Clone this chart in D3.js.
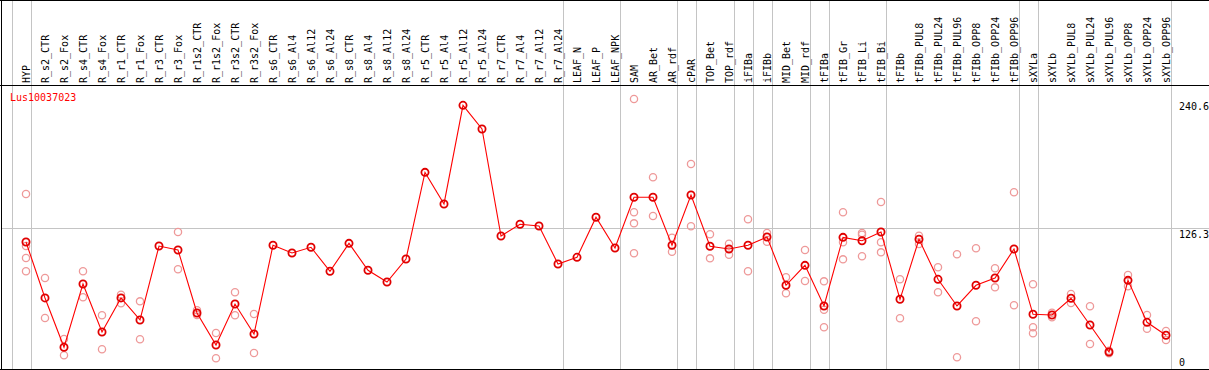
<!DOCTYPE html>
<html>
<head>
<meta charset="utf-8">
<script src="https://cdn.jsdelivr.net/npm/d3@7"></script>
<style>
  body { margin: 0; background: #fff; }
  svg { display: block; }
  text { font-family: "DejaVu Sans Mono", monospace; font-size: 10px; }
</style>
</head>
<body>
<div id="chart_area"></div>
<script>
// sample names (one column each)
var labels = ["HYP", "R_s2_CTR", "R_s2_Fox", "R_s4_CTR", "R_s4_Fox", "R_r1_CTR", "R_r1_Fox",
    "R_r3_CTR", "R_r3_Fox", "R_r1s2_CTR", "R_r1s2_Fox", "R_r3s2_CTR", "R_r3s2_Fox",
    "R_s6_CTR", "R_s6_Al4", "R_s6_Al12", "R_s6_Al24", "R_s8_CTR", "R_s8_Al4", "R_s8_Al12",
    "R_s8_Al24", "R_r5_CTR", "R_r5_Al4", "R_r5_Al12", "R_r5_Al24", "R_r7_CTR", "R_r7_Al4",
    "R_r7_Al12", "R_r7_Al24", "LEAF_N", "LEAF_P", "LEAF_NPK", "SAM", "AR_Bet", "AR_rdf",
    "cPAR", "TOP_Bet", "TOP_rdf", "iFIBa", "iFIBb", "MID_Bet", "MID_rdf", "tFIBa", "tFIB_Gr",
    "tFIB_Li", "tFIB_Bi", "tFIBb", "tFIBb_PUL8", "tFIBb_PUL24", "tFIBb_PUL96", "tFIBb_OPP8",
    "tFIBb_OPP24", "tFIBb_OPP96", "sXYLa", "sXYLb", "sXYLb_PUL8", "sXYLb_PUL24", "sXYLb_PUL96",
    "sXYLb_OPP8", "sXYLb_OPP24", "sXYLb_OPP96"];

// mean expression per sample
var means = [113.9, 64.3, 20.6, 76.7, 34.1, 64.3, 44.8, 110.3, 106.8, 51.0, 22.6, 58.9, 32.3,
    111.0, 104.1, 109.2, 87.9, 112.7, 88.8, 78.4, 98.8, 175.6, 147.6, 235.0, 214.0, 119.2,
    129.6, 128.1, 94.4, 100.3, 135.8, 108.6, 153.5, 153.5, 111.0, 155.5, 110.1, 107.7, 111.0,
    118.3, 75.5, 93.2, 57.2, 118.0, 115.0, 122.7, 63.1, 116.3, 80.8, 57.2, 75.5, 82.0, 107.7,
    49.8, 49.2, 64.0, 40.3, 16.4, 79.9, 42.7, 31.2];

// replicate values per sample
var replicates = [[156.4, 110.3, 99.7, 87.9], [82.0, 46.5], [27.9, 13.5], [87.9, 64.9],
    [48.9, 18.8], [67.2, 59.6], [61.3, 27.7], [], [122.7, 89.7], [53.4, 49.2], [33.2, 10.8],
    [69.3, 48.9], [50.1, 15.5], [], [], [], [], [], [], [], [], [], [], [], [], [], [], [], [],
    [], [], [], [240.6, 140.2, 130.4, 103.9], [171.2, 136.9], [117.7, 105.3], [183.0, 127.8],
    [120.7, 99.4], [112.4, 102.6], [134.0, 87.9], [121.9, 114.1], [82.6, 68.4], [106.8, 79.3],
    [79.0, 53.9, 38.3], [140.2, 113.6, 98.5], [121.9, 120.4, 101.2], [149.3, 113.6, 104.7],
    [80.8, 46.3], [119.5, 112.1], [91.5, 69.3], [103.0, 11.7], [108.3, 43.6], [90.6, 73.7],
    [157.9, 57.8], [76.4, 38.3, 33.0], [51.2, 47.1], [67.8, 59.8], [56.9, 23.5], [17.5, 15.3],
    [84.6, 74.6], [49.2, 37.0], [35.0, 27.0]];

// last sample of each group (grey separator after it)
var groupEnds = ["HYP", "R_r7_Al24", "LEAF_NPK", "AR_rdf", "cPAR", "TOP_rdf", "iFIBa", "iFIBb",
    "MID_rdf", "tFIBa", "tFIB_Bi", "tFIBb_OPP96", "sXYLa", "sXYLb_OPP96"];

var tickValues = [0, 126.3, 240.6];
var tickLabels = ["0", "126.3", "240.6"];
var geneId = "Lus10037023";

var width = 1209, height = 370;
var headerBottom = 85.5, plotBottom = 369.5;

var svg = d3.select("#chart_area")
    .append("svg")
        .attr("width", width)
        .attr("height", height);

//scales
var x = d3.scalePoint()
    .domain(labels)
    .range([26, 1166]);
var step = x.step();

var y = d3.scaleLinear()
    .domain([0, 240.6])
    .range([370.5, 99]);

//separator lines
var sepX = [x(labels[0]) - step + 4.5].concat(groupEnds.map(function(d){
    return x(d) + 4.5;
}));
svg.selectAll(".sep")
    .data(sepX)
    .enter().append("line")
        .attr("x1", function(d){ return Math.round(d) + 0.5; })
        .attr("x2", function(d){ return Math.round(d) + 0.5; })
        .attr("y1", 1)
        .attr("y2", plotBottom)
        .attr("stroke", "#c4c4c4")
        .attr("stroke-width", 1);

//middle reference line
svg.append("line")
    .attr("x1", 1).attr("x2", width)
    .attr("y1", Math.round(y(126.3)) + 0.5)
    .attr("y2", Math.round(y(126.3)) + 0.5)
    .attr("stroke", "#c4c4c4");

//frame
svg.append("line").attr("x1", 0).attr("x2", width).attr("y1", 0.5).attr("y2", 0.5)
    .attr("stroke", "#000");
svg.append("line").attr("x1", 0).attr("x2", width).attr("y1", headerBottom).attr("y2", headerBottom)
    .attr("stroke", "#000");
svg.append("line").attr("x1", 0).attr("x2", width).attr("y1", plotBottom).attr("y2", plotBottom)
    .attr("stroke", "#000");
svg.append("line").attr("x1", 1.5).attr("x2", 1.5).attr("y1", 0).attr("y2", plotBottom)
    .attr("stroke", "#000");

//header labels
svg.selectAll(".lab")
    .data(labels)
    .enter().append("text")
        .attr("transform", function(d){
            return "translate(" + (x(d) + 4) + ",83) rotate(-90)";
        })
        .attr("fill", "#000")
        .text(function(d){ return d; });

//gene id
svg.append("text")
    .attr("x", 10)
    .attr("y", 100.5)
    .attr("fill", "#ff0000")
    .text(geneId);

//value labels on the right
svg.selectAll(".tick")
    .data(tickValues)
    .enter().append("text")
        .attr("x", 1179)
        .attr("y", function(d){ return Math.min(y(d) + 10.5, 366); })
        .attr("fill", "#000")
        .text(function(d, i){ return tickLabels[i]; });

//replicate points
var repPoints = [];
replicates.forEach(function(r, i){
    r.forEach(function(v){
        repPoints.push({label: labels[i], value: v});
    });
});
svg.selectAll(".rep")
    .data(repPoints)
    .enter().append("circle")
        .attr("cx", function(d){ return x(d.label); })
        .attr("cy", function(d){ return y(d.value); })
        .attr("r", 3.6)
        .attr("fill", "none")
        .attr("stroke", "#ee9999")
        .attr("stroke-width", 1.3);

//mean line
var line = d3.line()
    .x(function(d, i){ return x(labels[i]); })
    .y(function(d){ return y(d); });
svg.append("path")
    .datum(means)
    .attr("d", line)
    .attr("fill", "none")
    .attr("stroke", "#ff0000")
    .attr("stroke-width", 1.1);

//mean points
svg.selectAll(".mean")
    .data(means)
    .enter().append("circle")
        .attr("cx", function(d, i){ return x(labels[i]); })
        .attr("cy", function(d){ return y(d); })
        .attr("r", 3.6)
        .attr("fill", "none")
        .attr("stroke", "#e00000")
        .attr("stroke-width", 1.8);
</script>
</body>
</html>
